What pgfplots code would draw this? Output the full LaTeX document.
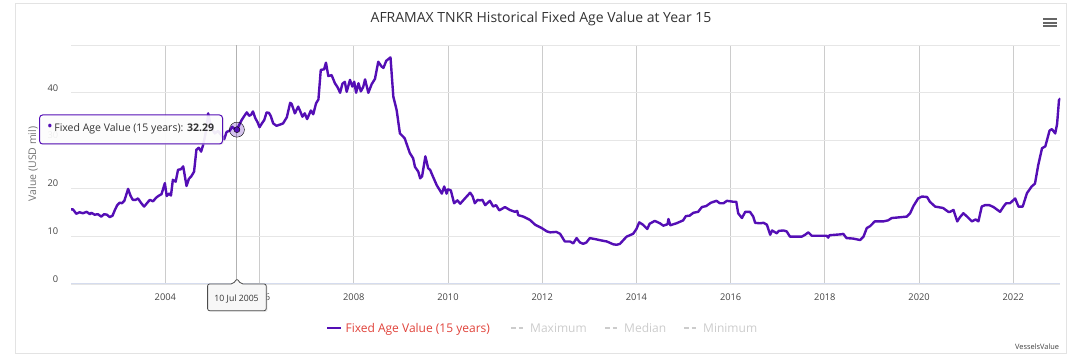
\documentclass[border=0pt]{standalone}
\usepackage{fontspec}
\setmainfont{Open Sans}
\usepackage{pgfplots}
\pgfplotsset{compat=1.18}
\definecolor{mainpurple}{RGB}{84,14,181}
\definecolor{gridh}{HTML}{E6E6E6}
\definecolor{gridv}{HTML}{CCCCCC}
\definecolor{axisline}{HTML}{D5DCEE}
\definecolor{ticklab}{HTML}{444444}
\definecolor{titlegrey}{HTML}{333333}
\definecolor{legred}{RGB}{224,66,58}
\definecolor{hidgrey}{HTML}{CCCCCC}
\definecolor{bordergrey}{HTML}{E3E3E3}
\begin{document}
\begin{tikzpicture}[x=1pt,y=1pt]
\useasboundingbox (0,0) rectangle (1080,361);
\draw[bordergrey, line width=1pt] (15.5,7.7) rectangle (1066.9,357.7);
\begin{axis}[
  at={(71.1pt,77pt)}, anchor=south west,
  scale only axis, width=989.3pt, height=239pt,
  xmin=2002, xmax=2023, ymin=0, ymax=50,
  xtick={2004,2006,2008,2010,2012,2014,2016,2018,2020,2022},
  xticklabels={2004,2006,2008,2010,2012,2014,2016,2018,2020,2022},
  ytick={0,10,20,30,40,50},
  yticklabels={0,10,20,30,40,{}},
  xmajorgrids, ymajorgrids,
  x grid style={gridv, line width=0.9pt},
  y grid style={gridh, line width=0.9pt},
  axis line style={draw=none},
  major tick length=0pt,
  tick style={draw=none},
  /pgf/number format/assume math mode=true,
  tick label style={font=\fontsize{9.3}{11}\selectfont, text=ticklab, inner sep=0pt},
  xticklabel style={anchor=base, yshift=-17pt},
  yticklabel style={anchor=base east, xshift=-12.6pt, yshift=1.7pt},
]
\draw[axisline, line width=1.3pt] (axis cs:2002,0) -- (axis cs:2023,0);
% crosshair
\addplot[draw=black!30, line width=0.9pt, forget plot] coordinates {(2005.52,0) (2005.52,50)};
% main series
\addplot[mainpurple, line width=2.4pt, line join=round, no marks] coordinates {
(2002.00,15.6) (2002.04,15.6) (2002.11,14.7) (2002.18,15.0) (2002.25,14.8) (2002.33,15.1)
(2002.40,14.6) (2002.43,14.9) (2002.50,14.5) (2002.57,14.6) (2002.64,14.1) (2002.70,14.6)
(2002.76,14.5) (2002.82,14.0) (2002.88,14.3) (2002.93,15.5) (2002.98,16.5) (2003.03,17.0)
(2003.08,16.9) (2003.13,17.4) (2003.21,19.9) (2003.26,18.5) (2003.31,17.6) (2003.37,17.6)
(2003.42,17.9) (2003.49,16.9) (2003.55,16.2) (2003.61,16.9) (2003.67,17.6) (2003.74,17.3)
(2003.80,18.0) (2003.85,18.4) (2003.92,18.8) (2003.99,21.1) (2004.03,18.4) (2004.08,18.9)
(2004.12,18.5) (2004.16,21.8) (2004.22,21.4) (2004.27,23.9) (2004.33,24.0) (2004.38,24.6)
(2004.45,20.5) (2004.50,22.0) (2004.55,22.5) (2004.61,23.5) (2004.66,28.1) (2004.71,28.5)
(2004.76,27.7) (2004.80,29.0) (2004.84,30.8) (2004.88,33.0) (2004.91,35.7) (2004.95,33.8)
(2004.99,32.5) (2005.05,31.5) (2005.12,32.0) (2005.20,31.0) (2005.25,30.3) (2005.30,31.8)
(2005.37,32.1) (2005.42,32.9) (2005.47,32.4) (2005.52,32.29) (2005.57,33.3) (2005.62,34.3)
(2005.68,35.2) (2005.73,35.9) (2005.78,35.2) (2005.82,35.4) (2005.86,36.1) (2005.91,34.7)
(2005.96,33.8) (2006.00,32.8) (2006.05,33.6) (2006.10,34.3) (2006.15,35.9) (2006.20,35.8)
(2006.24,35.1) (2006.29,33.6) (2006.36,33.1) (2006.45,33.4) (2006.50,33.6) (2006.58,34.9)
(2006.65,37.9) (2006.68,37.7) (2006.75,35.7) (2006.82,37.1) (2006.87,36.0) (2006.91,35.0)
(2006.96,35.7) (2007.01,34.5) (2007.09,36.3) (2007.14,35.5) (2007.20,37.8) (2007.25,38.6)
(2007.30,44.8) (2007.37,44.9) (2007.41,46.3) (2007.46,43.5) (2007.53,43.7) (2007.60,42.0)
(2007.66,41.1) (2007.71,40.0) (2007.76,41.9) (2007.81,42.3) (2007.85,40.2) (2007.92,42.7)
(2007.97,41.3) (2008.01,42.3) (2008.05,40.0) (2008.10,42.0) (2008.15,40.3) (2008.20,41.2)
(2008.24,42.8) (2008.31,40.0) (2008.38,41.8) (2008.45,42.9) (2008.52,46.5) (2008.59,45.5)
(2008.63,45.2) (2008.69,46.7) (2008.78,47.4) (2008.84,39.2) (2008.91,36.4) (2008.98,31.5)
(2009.08,30.5) (2009.19,27.4) (2009.26,26.3) (2009.30,24.5) (2009.37,23.5) (2009.41,22.1)
(2009.45,22.5) (2009.52,26.7) (2009.58,24.2) (2009.62,23.9) (2009.68,22.5) (2009.76,20.7)
(2009.87,18.9) (2009.92,20.4) (2009.97,18.9) (2010.00,19.8) (2010.06,19.6) (2010.13,16.9)
(2010.20,17.5) (2010.26,16.8) (2010.36,17.9) (2010.47,19.1) (2010.52,18.4) (2010.57,16.9)
(2010.63,17.6) (2010.68,17.5) (2010.73,17.6) (2010.79,16.5) (2010.89,17.4) (2010.96,16.2)
(2011.02,16.5) (2011.09,15.4) (2011.21,16.1) (2011.31,15.5) (2011.42,15.1) (2011.47,15.3)
(2011.49,14.4) (2011.60,14.1) (2011.74,13.4) (2011.85,12.4) (2011.99,11.7) (2012.10,11.0)
(2012.17,10.8) (2012.30,10.9) (2012.38,10.5) (2012.48,8.9) (2012.59,8.9) (2012.66,8.5)
(2012.73,9.6) (2012.80,8.7) (2012.87,8.4) (2012.94,8.7) (2013.01,9.6) (2013.12,9.4)
(2013.26,9.1) (2013.37,8.9) (2013.44,8.6) (2013.51,8.3) (2013.58,8.2) (2013.65,8.4)
(2013.79,9.9) (2013.93,10.5) (2014.00,11.5) (2014.06,12.9) (2014.14,12.4) (2014.23,11.5)
(2014.28,12.6) (2014.39,13.2) (2014.50,12.7) (2014.57,12.2) (2014.66,12.5) (2014.68,13.6)
(2014.72,12.3) (2014.85,12.7) (2014.99,13.3) (2015.05,14.2) (2015.13,14.3) (2015.21,14.9)
(2015.31,15.1) (2015.39,16.1) (2015.48,16.3) (2015.58,17.0) (2015.70,17.4) (2015.77,16.9)
(2015.85,16.9) (2015.92,17.4) (2016.06,17.2) (2016.12,17.2) (2016.16,14.8) (2016.24,13.8)
(2016.31,15.1) (2016.41,15.1) (2016.48,14.1) (2016.52,12.8) (2016.62,12.7) (2016.70,12.8)
(2016.77,12.4) (2016.84,10.3) (2016.88,11.2) (2016.98,10.6) (2017.02,11.1) (2017.12,11.2)
(2017.19,11.0) (2017.26,9.9) (2017.40,9.9) (2017.51,9.9) (2017.58,10.3) (2017.65,10.8)
(2017.72,10.1) (2018.04,10.1) (2018.07,9.7) (2018.10,10.2) (2018.35,10.4) (2018.39,10.5)
(2018.46,9.6) (2018.60,9.5) (2018.75,9.2) (2018.82,9.9) (2018.89,11.7) (2018.96,12.1)
(2019.06,13.1) (2019.24,13.1) (2019.34,13.3) (2019.42,13.8) (2019.53,13.9) (2019.74,14.1)
(2019.81,14.8) (2019.88,16.3) (2019.98,17.9) (2020.06,18.3) (2020.17,18.2) (2020.23,17.2)
(2020.34,16.2) (2020.51,15.9) (2020.62,15.1) (2020.66,15.1) (2020.73,15.5) (2020.81,13.1)
(2020.87,14.0) (2020.94,14.8) (2021.02,14.1) (2021.12,13.1) (2021.20,13.5) (2021.26,13.1)
(2021.33,16.2) (2021.40,16.5) (2021.49,16.5) (2021.58,16.1) (2021.72,15.1) (2021.80,16.3)
(2021.85,16.9) (2021.93,16.9) (2022.04,17.9) (2022.11,16.2) (2022.20,16.2) (2022.29,19.0)
(2022.39,20.4) (2022.46,21.0) (2022.53,24.9) (2022.61,28.4) (2022.68,28.8) (2022.77,32.1)
(2022.82,32.4) (2022.89,31.5) (2022.93,33.5) (2022.97,38.5) (2023.00,38.8)
};
% hovered point with halo
\addplot[only marks, mark=*, mark size=7.5pt, mark options={draw=none, fill=mainpurple, fill opacity=0.25}, forget plot] coordinates {(2005.52,32.29)};
\addplot[only marks, mark=*, mark size=3pt, mark options={draw=none, fill=mainpurple}, forget plot] coordinates {(2005.52,32.29)};
\end{axis}
% title
\node[anchor=base, font=\fontsize{14}{16}\selectfont, text=titlegrey, inner sep=0pt] at (541,338.7) {AFRAMAX TNKR Historical Fixed Age Value at Year 15};
% menu icon
\foreach \yy in {341.7,338.3,335.0} \draw[black!60, line width=2pt] (1043.4,\yy) -- (1057.2,\yy);
% y label
\node[rotate=90, font=\fontsize{10.5}{12}\selectfont, text=black!55, inner sep=0pt] at (33,197) {Value (USD mil)};
% tooltip
\fill[black!10, opacity=0.5, rounded corners=3pt] (41,216) rectangle (224,244.5);
\draw[mainpurple, fill=white, fill opacity=0.85, line width=1pt, rounded corners=3pt] (39.6,246) rectangle (222.5,217);
\node[anchor=base west, font=\fontsize{10.5}{12}\selectfont, text=titlegrey, inner sep=0pt] at (47,229) {{\color{mainpurple}\fontsize{15}{12}\selectfont •}\hspace{1.5pt}Fixed Age Value (15 years): \textbf{32.29}};
% date label
\fill[black!12, opacity=0.6, rounded corners=2pt] (209,49) rectangle (267.5,76);
\draw[black!70, fill=black!3, line width=0.8pt, rounded corners=2pt] (207.6,77) -- (233,77) -- (237,82.3) -- (241,77) -- (266.2,77) -- (266.2,50.3) -- (207.6,50.3) -- cycle;
\node[anchor=base, font=\fontsize{8.7}{10}\selectfont, text=titlegrey, inner sep=0pt] at (236.6,59.6) {10 Jul 2005};
% legend
\draw[mainpurple, line width=2pt] (327.1,32.7) -- (340.9,32.7);
\node[anchor=base west, font=\fontsize{12}{14}\selectfont, text=legred, inner sep=0pt] at (345.4,28.4) {Fixed Age Value (15 years)};
\draw[hidgrey, line width=1.6pt, dash pattern=on 4.5pt off 3pt] (511.4,32.7) -- (524.4,32.7);
\node[anchor=base west, font=\fontsize{12}{14}\selectfont, text=hidgrey, inner sep=0pt] at (530,28.4) {Maximum};
\draw[hidgrey, line width=1.6pt, dash pattern=on 4.5pt off 3pt] (605,32.7) -- (618,32.7);
\node[anchor=base west, font=\fontsize{12}{14}\selectfont, text=hidgrey, inner sep=0pt] at (624,28.4) {Median};
\draw[hidgrey, line width=1.6pt, dash pattern=on 4.5pt off 3pt] (684,32.7) -- (697,32.7);
\node[anchor=base west, font=\fontsize{12}{14}\selectfont, text=hidgrey, inner sep=0pt] at (703,28.4) {Minimum};
% credits
\node[anchor=base east, font=\fontsize{7.4}{9}\selectfont, text=black!75, inner sep=0pt] at (1059.3,11) {VesselsValue};
\end{tikzpicture}
\end{document}
